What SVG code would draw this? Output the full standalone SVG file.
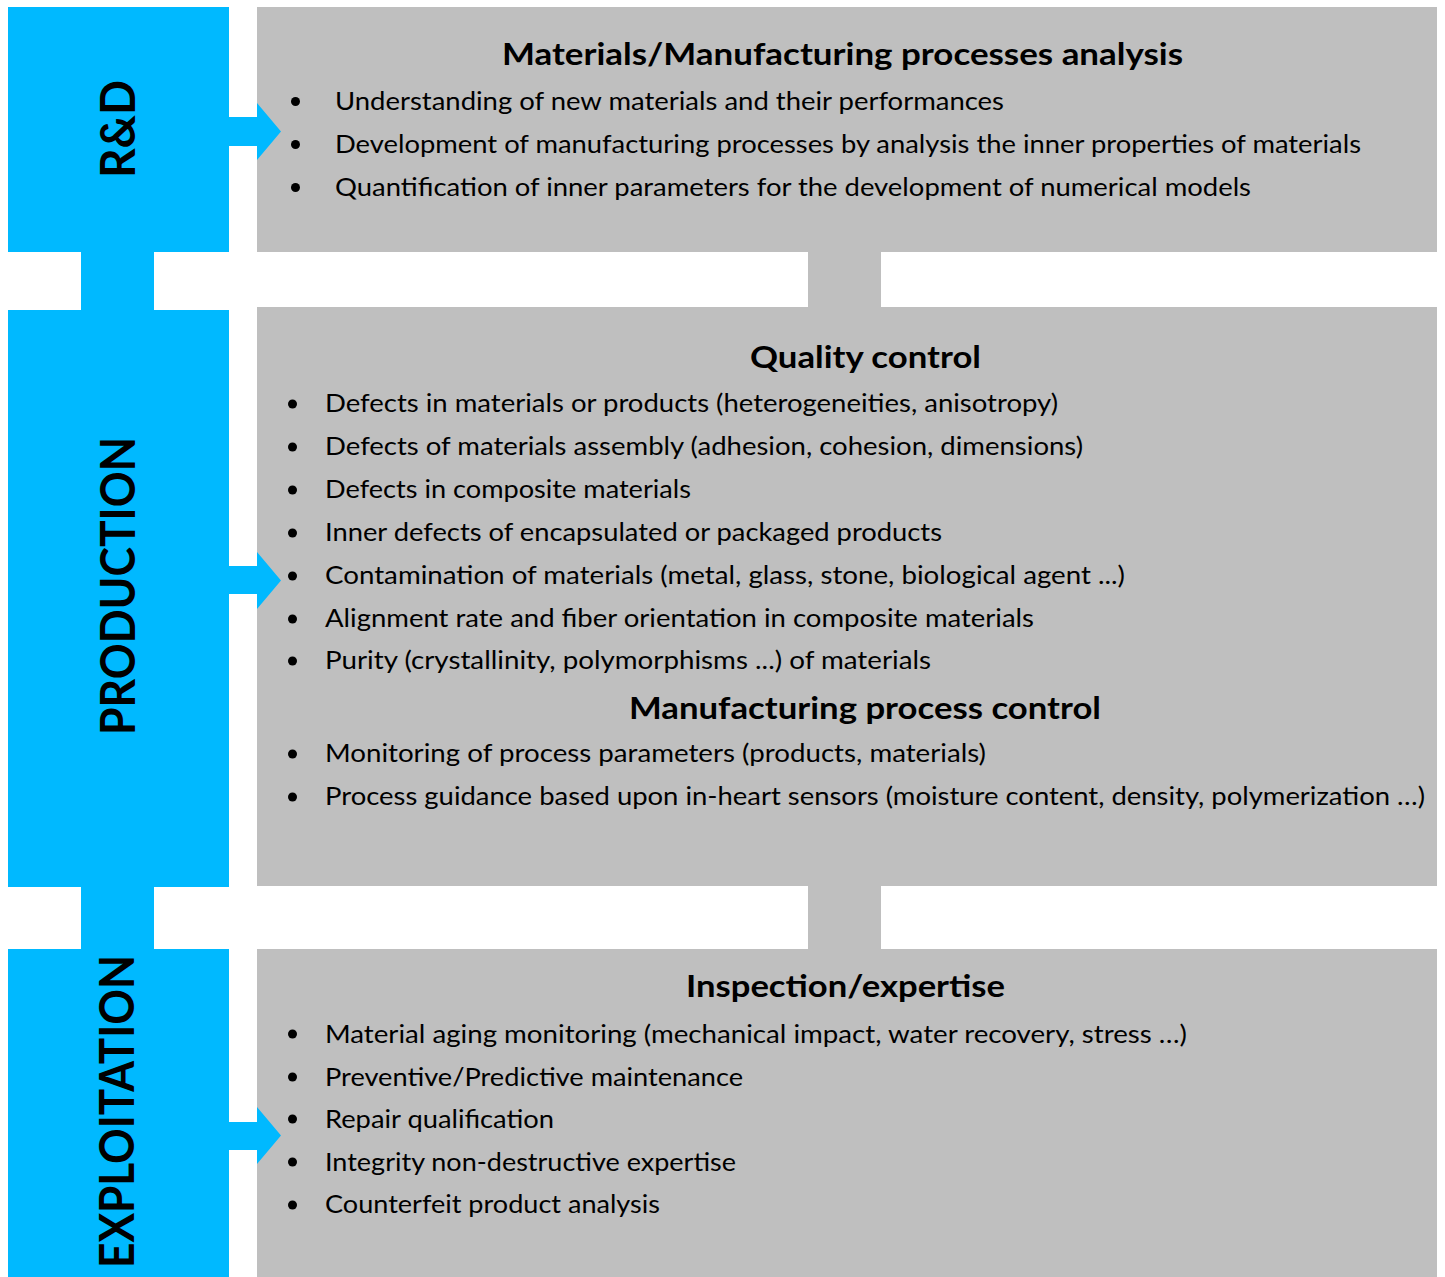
<svg xmlns="http://www.w3.org/2000/svg" width="1445" height="1277" viewBox="0 0 1445 1277">
<style>
.blue{fill:#00B9FF}
.gray{fill:#BFBFBF}
.stage{font-family:Lato,"Open Sans","Liberation Sans",sans-serif;font-weight:bold;font-size:48px;fill:#000;text-anchor:middle}
.title{font-family:Lato,"Open Sans","Liberation Sans",sans-serif;font-weight:bold;font-size:31px;fill:#000;text-anchor:middle}
.item{font-family:Lato,"Open Sans","Liberation Sans",sans-serif;font-size:25px;fill:#000}
.dot{fill:#000}
</style>
<rect width="1445" height="1277" fill="#FFFFFF"/>
<g id="connectors">
<rect class="blue" x="81" y="250" width="73" height="62"/>
<rect class="blue" x="81" y="885" width="73" height="66"/>
<rect class="gray" x="808" y="250" width="73" height="59"/>
<rect class="gray" x="808" y="884" width="73" height="67"/>
</g>
<g id="box-rd">
<rect class="gray" x="257" y="7" width="1180" height="245"/>
<text class="title" x="842.5" y="65" textLength="681" lengthAdjust="spacingAndGlyphs">Materials/Manufacturing processes analysis</text>
<circle class="dot" cx="295.5" cy="101.5" r="4.5"/>
<circle class="dot" cx="295.5" cy="144.5" r="4.5"/>
<circle class="dot" cx="295.5" cy="187.5" r="4.5"/>
<text class="item" x="335" y="110" textLength="669" lengthAdjust="spacingAndGlyphs">Understanding of new materials and their performances</text>
<text class="item" x="335" y="153" textLength="1026" lengthAdjust="spacingAndGlyphs">Development of manufacturing processes by analysis the inner properties of materials</text>
<text class="item" x="335" y="196" textLength="916" lengthAdjust="spacingAndGlyphs">Quantification of inner parameters for the development of numerical models</text>
</g>
<g id="box-production">
<rect class="gray" x="257" y="307" width="1180" height="579"/>
<text class="title" x="865.5" y="368" textLength="231" lengthAdjust="spacingAndGlyphs">Quality control</text>
<circle class="dot" cx="292.5" cy="404" r="4.5"/>
<circle class="dot" cx="292.5" cy="447" r="4.5"/>
<circle class="dot" cx="292.5" cy="490" r="4.5"/>
<circle class="dot" cx="292.5" cy="533" r="4.5"/>
<circle class="dot" cx="292.5" cy="576" r="4.5"/>
<circle class="dot" cx="292.5" cy="619" r="4.5"/>
<circle class="dot" cx="292.5" cy="661" r="4.5"/>
<circle class="dot" cx="292.5" cy="754" r="4.5"/>
<circle class="dot" cx="292.5" cy="797" r="4.5"/>
<text class="item" x="325" y="412" textLength="733" lengthAdjust="spacingAndGlyphs">Defects in materials or products (heterogeneities, anisotropy)</text>
<text class="item" x="325" y="455" textLength="758" lengthAdjust="spacingAndGlyphs">Defects of materials assembly (adhesion, cohesion, dimensions)</text>
<text class="item" x="325" y="498" textLength="366" lengthAdjust="spacingAndGlyphs">Defects in composite materials</text>
<text class="item" x="325" y="541" textLength="617" lengthAdjust="spacingAndGlyphs">Inner defects of encapsulated or packaged products</text>
<text class="item" x="325" y="584" textLength="800" lengthAdjust="spacingAndGlyphs">Contamination of materials (metal, glass, stone, biological agent ...)</text>
<text class="item" x="325" y="627" textLength="709" lengthAdjust="spacingAndGlyphs">Alignment rate and fiber orientation in composite materials</text>
<text class="item" x="325" y="669" textLength="606" lengthAdjust="spacingAndGlyphs">Purity (crystallinity, polymorphisms ...) of materials</text>
<text class="title" x="865" y="719" textLength="472" lengthAdjust="spacingAndGlyphs">Manufacturing process control</text>
<text class="item" x="325" y="762" textLength="661" lengthAdjust="spacingAndGlyphs">Monitoring of process parameters (products, materials)</text>
<text class="item" x="325" y="805" textLength="1100" lengthAdjust="spacingAndGlyphs">Process guidance based upon in-heart sensors (moisture content, density, polymerization …)</text>
</g>
<g id="box-exploitation">
<rect class="gray" x="257" y="949" width="1180" height="328"/>
<text class="title" x="845.5" y="997" textLength="319" lengthAdjust="spacingAndGlyphs">Inspection/expertise</text>
<circle class="dot" cx="292.5" cy="1034" r="4.5"/>
<circle class="dot" cx="292.5" cy="1077" r="4.5"/>
<circle class="dot" cx="292.5" cy="1119" r="4.5"/>
<circle class="dot" cx="292.5" cy="1162" r="4.5"/>
<circle class="dot" cx="292.5" cy="1205" r="4.5"/>
<text class="item" x="325" y="1043" textLength="862" lengthAdjust="spacingAndGlyphs">Material aging monitoring (mechanical impact, water recovery, stress …)</text>
<text class="item" x="325" y="1086" textLength="418" lengthAdjust="spacingAndGlyphs">Preventive/Predictive maintenance</text>
<text class="item" x="325" y="1128" textLength="229" lengthAdjust="spacingAndGlyphs">Repair qualification</text>
<text class="item" x="325" y="1171" textLength="411" lengthAdjust="spacingAndGlyphs">Integrity non-destructive expertise</text>
<text class="item" x="325" y="1213" textLength="335" lengthAdjust="spacingAndGlyphs">Counterfeit product analysis</text>
</g>
<g id="stage-rd">
<rect class="blue" x="8" y="7" width="221" height="245"/>
<polygon class="blue" points="228,117 257,117 257,103 281,131.5 257,160 257,146 228,146"/>
<text class="stage" transform="translate(135,129) rotate(-90)" textLength="98" lengthAdjust="spacingAndGlyphs">R&amp;D</text>
</g>
<g id="stage-production">
<rect class="blue" x="8" y="310" width="221" height="577"/>
<polygon class="blue" points="228,566 257,566 257,552 281,580.5 257,609 257,594 228,594"/>
<text class="stage" transform="translate(135,586) rotate(-90)" textLength="298" lengthAdjust="spacingAndGlyphs">PRODUCTION</text>
</g>
<g id="stage-exploitation">
<rect class="blue" x="8" y="949" width="221" height="328"/>
<polygon class="blue" points="228,1122 257,1122 257,1107 281,1135.5 257,1164 257,1150 228,1150"/>
<text class="stage" transform="translate(134,1111.5) rotate(-90)" textLength="313" lengthAdjust="spacingAndGlyphs">EXPLOITATION</text>
</g>
</svg>
